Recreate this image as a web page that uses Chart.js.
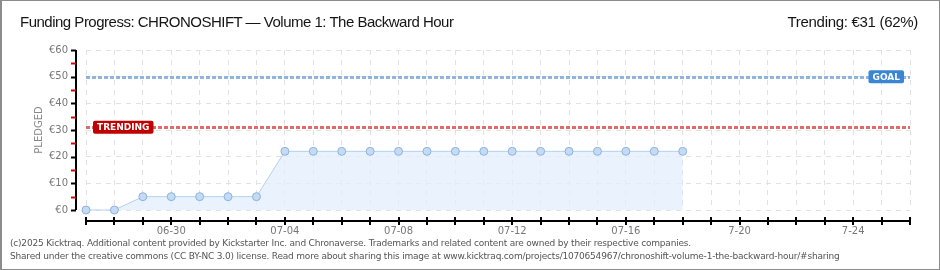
<!DOCTYPE html>
<html>
<head>
<meta charset="utf-8">
<script src="https://cdn.jsdelivr.net/npm/chart.js@4.4.1/dist/chart.umd.min.js"></script>
<style>
  body { margin: 0; background: #fff; }
  #wrap { position: relative; width: 940px; height: 270px; overflow: hidden; background: #fff; }
  #frame { position: absolute; left: 0; top: 0; width: 940px; height: 270px; box-sizing: border-box;
           border: 1px solid #8c8c8c; border-left-width: 2px; pointer-events: none; }
  canvas { position: absolute; left: 0; top: 0; }
  .head { position: absolute; top: 13px; font: 15px "Liberation Sans", sans-serif; color: #151515; white-space: nowrap; }
  #title { left: 20px; letter-spacing: -0.5px; }
  #trend { right: 22px; letter-spacing: -0.3px; }
  .foot { position: absolute; left: 10px; font: 9px "DejaVu Sans", sans-serif; color: #555; white-space: nowrap; letter-spacing: -0.2px; }
</style>
</head>
<body>
<div id="wrap">
  <canvas id="kt" width="940" height="270"></canvas>
  <div class="head" id="title">Funding Progress: CHRONOSHIFT — Volume 1: The Backward Hour</div>
  <div class="head" id="trend">Trending: €31 (62%)</div>
  <div class="foot" style="top:238px">(c)2025 Kicktraq. Additional content provided by Kickstarter Inc. and Chronaverse. Trademarks and related content are owned by their respective companies.</div>
  <div class="foot" style="top:251px">Shared under the creative commons (CC BY-NC 3.0) license. Read more about sharing this image at www.kicktraq.com/projects/1070654967/chronoshift-volume-1-the-backward-hour/#sharing</div>
  <div id="frame"></div>
</div>
<script>
const days = ['06-27', '06-28', '06-29', '06-30', '07-01', '07-02', '07-03', '07-04', '07-05', '07-06',
              '07-07', '07-08', '07-09', '07-10', '07-11', '07-12', '07-13', '07-14', '07-15', '07-16',
              '07-17', '07-18', '07-19', '7-20', '7-21', '7-22', '7-23', '7-24', '7-25', '7-26'];
const pledged = [0, 0, 5, 5, 5, 5, 5, 22, 22, 22, 22, 22, 22, 22, 22, 22, 22, 22, 22, 22, 22, 22];
const goal = 50;
const trending = 31;
const yMax = 60;
const yStep = 10;

function tag(ctx, text, x, y, color, alignRight) {
    ctx.font = 'bold 9px "DejaVu Sans", sans-serif';
    const w = ctx.measureText(text).width + 8;
    const left = alignRight ? x - w : x;
    ctx.fillStyle = color;
    ctx.beginPath();
    ctx.roundRect(left, y - 6.5, w, 13, 2);
    ctx.fill();
    ctx.fillStyle = '#fff';
    ctx.textAlign = 'left';
    ctx.textBaseline = 'middle';
    ctx.fillText(text, left + 4, y + 0.5);
}

const ktPlugin = {
    id: 'ktPlugin',
    beforeDatasetsDraw(chart) {
        const {ctx, chartArea: a, scales: {y}} = chart;
        ctx.save();
        ctx.lineWidth = 3;
        ctx.setLineDash([4, 2]);
        ctx.strokeStyle = 'rgba(110,155,210,0.75)';
        let gy = Math.round(y.getPixelForValue(goal)) + 0.5;
        ctx.beginPath(); ctx.moveTo(a.left, gy); ctx.lineTo(a.right, gy); ctx.stroke();
        ctx.strokeStyle = 'rgba(215,70,70,0.8)';
        let ty = Math.round(y.getPixelForValue(trending)) + 0.5;
        ctx.beginPath(); ctx.moveTo(a.left, ty); ctx.lineTo(a.right, ty); ctx.stroke();
        ctx.restore();
    },
    afterDraw(chart) {
        const {ctx, chartArea: a, scales: {x, y}} = chart;
        ctx.save();
        ctx.lineWidth = 2;
        // y axis, set 10px left of the plot
        const ax = a.left - 10;
        ctx.strokeStyle = '#000';
        ctx.beginPath();
        ctx.moveTo(ax, y.getPixelForValue(yMax));
        ctx.lineTo(ax, y.getPixelForValue(0));
        ctx.stroke();
        for (let v = 0; v <= yMax; v += yStep / 2) {
            const py = Math.round(y.getPixelForValue(v)) + 0.5;
            ctx.strokeStyle = v % yStep === 0 ? '#000' : '#e00000';
            ctx.lineWidth = 2;
            ctx.beginPath(); ctx.moveTo(ax - 5, py); ctx.lineTo(ax, py); ctx.stroke();
        }
        // x axis, set 11px below the plot
        const by = a.bottom + 11;
        ctx.strokeStyle = '#000';
        ctx.lineWidth = 2;
        ctx.beginPath();
        ctx.moveTo(x.getPixelForValue(0), by);
        ctx.lineTo(x.getPixelForValue(days.length - 1), by);
        ctx.stroke();
        days.forEach((d, i) => {
            const px = Math.round(x.getPixelForValue(i));
            ctx.beginPath(); ctx.moveTo(px, by - 4); ctx.lineTo(px, by + 4); ctx.stroke();
        });
        // target tags
        tag(ctx, 'TRENDING', a.left + 7, y.getPixelForValue(trending), '#c00000', false);
        tag(ctx, 'GOAL', a.right - 6, y.getPixelForValue(goal), '#3a86d4', true);
        ctx.restore();
    }
};

new Chart(document.getElementById('kt'), {
    type: 'line',
    data: {
        labels: days,
        datasets: [{
            label: 'Pledged',
            data: pledged,
            clip: 8,
            borderColor: '#b3d0f0',
            borderWidth: 1,
            backgroundColor: 'rgba(225,238,252,0.75)',
            fill: 'origin',
            tension: 0,
            pointRadius: 4,
            pointBackgroundColor: '#c4dbf5',
            pointBorderColor: '#8fb1da',
            pointBorderWidth: 1
        }]
    },
    options: {
        responsive: false,
        animation: false,
        layout: { padding: { top: 50, right: 30, left: 0, bottom: 0 } },
        plugins: { legend: { display: false }, tooltip: { enabled: false } },
        scales: {
            x: {
                offset: false,
                afterFit: (s) => { s.height = 60; },
                border: { display: false, dash: [5, 5] },
                grid: { color: '#e2e2e2', lineWidth: 1, drawTicks: false },
                ticks: {
                    autoSkip: false, maxRotation: 0, padding: 15,
                    color: '#777', font: { family: '"DejaVu Sans", sans-serif', size: 10 },
                    callback: (v, i) => (i % 4 === 3 ? days[i] : '')
                }
            },
            y: {
                min: 0, max: yMax,
                afterFit: (s) => { s.width = 86; },
                border: { display: false, dash: [5, 5] },
                grid: { color: '#e2e2e2', lineWidth: 1, drawTicks: false },
                ticks: {
                    stepSize: yStep, padding: 18,
                    color: '#777', font: { family: '"DejaVu Sans", sans-serif', size: 10 },
                    callback: (v) => '€' + v
                },
                title: {
                    display: true, text: 'PLEDGED', color: '#888',
                    font: { family: '"DejaVu Sans", sans-serif', size: 10 },
                    padding: { top: 33, bottom: 0 }
                }
            }
        }
    },
    plugins: [ktPlugin]
});
</script>
</body>
</html>
